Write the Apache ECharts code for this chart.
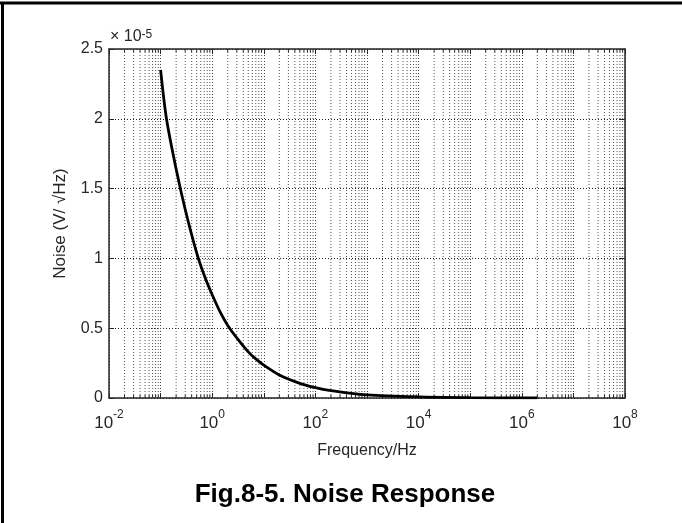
<!DOCTYPE html>
<html>
<head>
<meta charset="utf-8">
<script src="https://cdn.jsdelivr.net/npm/echarts@6/dist/echarts.min.js"></script>
<style>
html,body{margin:0;padding:0;background:#fff;}
#chart{width:682px;height:523px;}
</style>
</head>
<body>
<div id="chart"></div>
<script>
// Frequency (Hz) sample points
var freqHz = [0.1, 0.13, 0.2, 0.3, 0.5, 0.7, 1, 1.5, 2, 3, 5, 7, 10, 20, 50, 100, 200, 500, 1000, 1e4, 1e5, 1e6, 2e6];
// Noise values in units of 1e-5 V/sqrt(Hz)
var noiseE5 = [2.35, 2.0, 1.64, 1.35, 1.04, 0.88, 0.74, 0.60, 0.52, 0.43, 0.33, 0.28, 0.235, 0.165, 0.105, 0.074, 0.052, 0.033, 0.023, 0.0074, 0.0023, 0.0007, 0.0005];
// Tick labels
var yTicks = ['0', '0.5', '1', '1.5', '2', '2.5'];
var xTickExponents = [-2, 0, 2, 4, 6, 8];
var xDecadeMin = -2, xDecadeMax = 8;

var chart = echarts.init(document.getElementById('chart'), null, {renderer: 'canvas'});
var FONT = 'Liberation Sans, Arial, Helvetica, sans-serif';
var AX = '#262626';

function log10(v) { return Math.log(v) / Math.LN10; }

// x positions are on a decade (log10) scale
var seriesData = freqHz.map(function (f, i) { return [log10(f), noiseE5[i]]; });

// sub-decade grid positions (2..9 x 10^n), log10 transformed
var minorPos = [];
for (var n = xDecadeMin; n < xDecadeMax; n++) {
  for (var k = 2; k <= 9; k++) minorPos.push([log10(k * Math.pow(10, n))]);
}

function xLabel(e) {
  var r = Math.round(e);
  if (xTickExponents.indexOf(r) < 0) return '';
  return '{b|10}{s|' + r + '}';
}

var option = {
  animation: false,
  backgroundColor: '#fff',
  grid: {left: 109, top: 49, width: 516, height: 349, containLabel: false},
  xAxis: [
    {
      type: 'value', min: xDecadeMin, max: xDecadeMax, interval: 1, position: 'bottom',
      name: 'Frequency/Hz', nameLocation: 'middle', nameGap: 45,
      nameTextStyle: {fontFamily: FONT, fontSize: 16, color: AX},
      axisLine: {show: true, onZero: false, lineStyle: {color: AX, width: 1.5}},
      axisTick: {show: true, inside: true, length: 5, lineStyle: {color: AX, width: 1}},
      axisLabel: {
        margin: 11, formatter: xLabel, color: AX,
        rich: {
          b: {fontFamily: FONT, fontSize: 17, color: AX, lineHeight: 23, verticalAlign: 'bottom'},
          s: {fontFamily: FONT, fontSize: 12, color: AX, lineHeight: 12, verticalAlign: 'top'}
        }
      },
      splitLine: {show: true, lineStyle: {color: '#444', type: [1, 2], width: 1}}
    },
    {
      type: 'value', min: xDecadeMin, max: xDecadeMax, interval: 1, position: 'top',
      axisLine: {show: true, onZero: false, lineStyle: {color: AX, width: 1.5}},
      axisTick: {show: true, inside: true, length: 5, lineStyle: {color: AX, width: 1}},
      axisLabel: {show: false},
      splitLine: {show: false}
    }
  ],
  yAxis: [
    {
      type: 'value', min: 0, max: 2.5, interval: 0.5, position: 'left',
      name: 'Noise (V/ \u221AHz)', nameLocation: 'middle', nameGap: 40, nameRotate: 90,
      nameTextStyle: {fontFamily: FONT, fontSize: 17, color: AX},
      axisLine: {show: true, onZero: false, lineStyle: {color: AX, width: 1.5}},
      axisTick: {show: true, inside: true, length: 5, lineStyle: {color: AX}},
      axisLabel: {
        margin: 6, fontFamily: FONT, fontSize: 16, color: AX,
        formatter: function (v) {
          var idx = Math.round(v / 0.5);
          return yTicks[idx] !== undefined ? yTicks[idx] : '';
        }
      },
      splitLine: {show: true, lineStyle: {color: '#222', type: [1, 2], width: 1}}
    },
    {
      type: 'value', min: 0, max: 2.5, interval: 0.5, position: 'right',
      axisLine: {show: true, onZero: false, lineStyle: {color: AX, width: 1.5}},
      axisTick: {show: true, inside: true, length: 5, lineStyle: {color: AX}},
      axisLabel: {show: false},
      splitLine: {show: false}
    }
  ],
  series: [
    {
      type: 'custom', xAxisIndex: 0, yAxisIndex: 0, silent: true, z: 1,
      data: minorPos,
      renderItem: function (params, api) {
        var cs = params.coordSys;
        var x = api.coord([api.value(0), 0])[0];
        var top = cs.y, bot = cs.y + cs.height;
        return {
          type: 'group',
          children: [
            {type: 'line', shape: {x1: x, y1: top, x2: x, y2: bot},
             style: {stroke: '#555', lineWidth: 1, lineDash: [1, 2]}},
            {type: 'line', shape: {x1: x, y1: bot, x2: x, y2: bot - 3},
             style: {stroke: AX, lineWidth: 1}},
            {type: 'line', shape: {x1: x, y1: top, x2: x, y2: top + 3},
             style: {stroke: AX, lineWidth: 1}}
          ]
        };
      }
    },
    {
      type: 'line', xAxisIndex: 0, yAxisIndex: 0,
      data: seriesData, showSymbol: false, smooth: 0.3,
      lineStyle: {color: '#000', width: 2.8}, z: 5
    }
  ],
  graphic: [
    {type: 'text', x: 110, y: 29, style: {
      text: '\u00D7 10{s|-5}', fontFamily: FONT, fontSize: 16, fill: AX,
      rich: {s: {fontFamily: FONT, fontSize: 12, fill: AX, verticalAlign: 'top', lineHeight: 10}}
    }},
    {type: 'text', x: 345, y: 495, style: {
      text: 'Fig.8-5. Noise Response', fontFamily: FONT, fontSize: 26, fontWeight: 'bold', fill: '#000',
      textAlign: 'center', textVerticalAlign: 'middle'
    }},
    {type: 'line', shape: {x1: 0, y1: 3, x2: 682, y2: 3}, style: {stroke: '#000', lineWidth: 3}},
    {type: 'line', shape: {x1: 2.5, y1: 2, x2: 2.5, y2: 523}, style: {stroke: '#000', lineWidth: 3}}
  ]
};
chart.setOption(option);
</script>
</body>
</html>
